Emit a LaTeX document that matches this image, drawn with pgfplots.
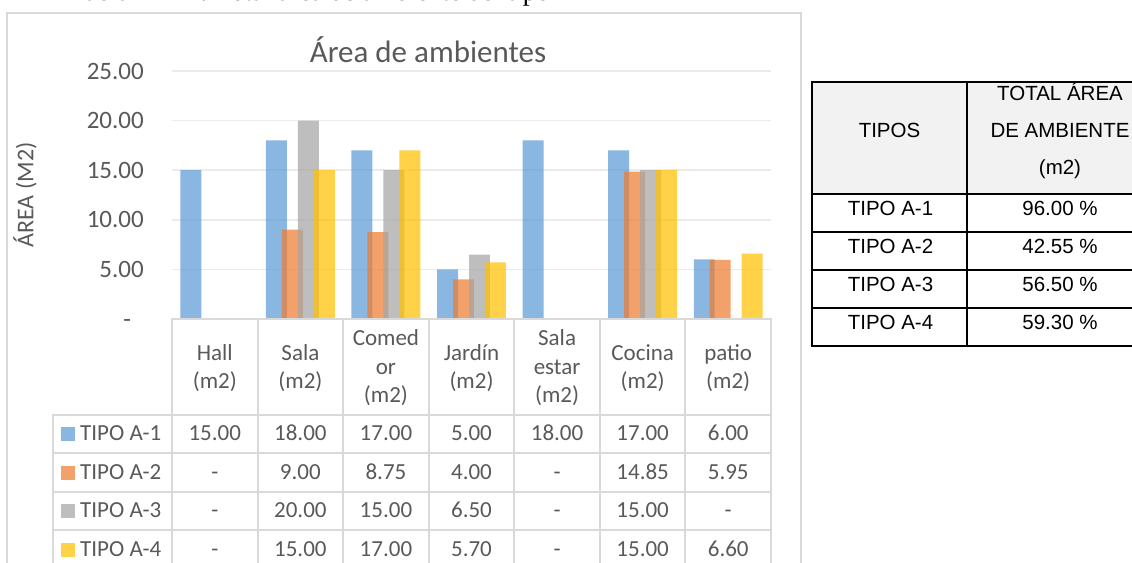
\documentclass[border=0pt]{standalone}
\usepackage{pgfplots}
\pgfplotsset{compat=1.18}
\usepackage{fontspec}
\setmainfont{Carlito}
\newfontfamily\arialf{Liberation Sans}
\newfontfamily\timesf{Liberation Serif}

\definecolor{txt}{HTML}{595959}
\definecolor{gridc}{HTML}{EBEBEB}
\definecolor{tbl}{HTML}{D9D9D9}
\definecolor{sA}{HTML}{5B9BD5}
\definecolor{sB}{HTML}{ED7D31}
\definecolor{sC}{HTML}{A5A5A5}
\definecolor{sD}{HTML}{FFC000}
\definecolor{hdr}{HTML}{F2F2F2}

\newcommand{\tabfont}{\fontsize{23}{28}\selectfont}
\newcommand{\rfont}{\arialf\fontsize{20.5}{25}\selectfont}

\begin{document}
\begin{tikzpicture}
% ---------------- bar chart ----------------
\begin{axis}[
  scale only axis, width=599pt, height=248pt,
  at={(172pt,-319pt)}, anchor=south west,
  xmin=-0.5, xmax=6.5, ymin=0, ymax=25,
  axis line style={draw=none},
  xtick=\empty,
  ytick={0,5,10,15,20,25},
  yticklabels={-\phantom{0},5.00,10.00,15.00,20.00,25.00},
  ymajorgrids, grid style={gridc, line width=1.5pt},
  major tick length=0pt,
  yticklabel style={font=\fontsize{25}{30}\selectfont, text=txt, anchor=east, inner sep=0pt, xshift=-28pt},
  ybar, bar width=0.245,
  every axis plot/.append style={draw=none, fill opacity=0.72},
]
% TIPO A-1
\addplot[fill=sA, bar shift=-0.28] coordinates {(0,15) (1,18) (2,17) (3,5) (4,18) (5,17) (6,6)};
% TIPO A-2
\addplot[fill=sB, bar shift=-0.0935] coordinates {(1,9) (2,8.75) (3,4) (5,14.85) (6,5.95)};
% TIPO A-3
\addplot[fill=sC, bar shift=0.0935] coordinates {(1,20) (2,15) (3,6.5) (5,15)};
% TIPO A-4
\addplot[fill=sD, bar shift=0.28] coordinates {(1,15) (2,17) (3,5.7) (5,15) (6,6.6)};
\end{axis}

\begin{scope}[x=1pt,y=-1pt]
% caption above the chart (only its lowest edge lies on the page)
\node[anchor=base east, inner sep=0pt, font=\timesf\fontsize{27}{32}\selectfont] at (550,1) {Tabla N° 11: Total área de ambiente del tipo};

% chart frame
\draw[tbl, line width=2pt] (7,600) -- (7,13) -- (801,13) -- (801,600);

% title and axis label
\node[anchor=base, inner sep=0pt, text=txt, font=\fontsize{31}{37}\selectfont] at (428,62) {Área de ambientes};
\node[rotate=90, inner sep=0pt, text=txt, font=\fontsize{24}{29}\selectfont] at (25,195) {ÁREA (M2)};

% data table grid
\foreach \i in {0,...,7} {
  \draw[tbl, line width=2pt] ({172+85.57*\i},319) -- ({172+85.57*\i},600);
}
\draw[tbl, line width=2pt] (171,319) -- (772,319);
\foreach \y in {415,453,491.5,530,568.5} {
  \draw[tbl, line width=2pt] (53,\y) -- (772,\y);
}
\draw[tbl, line width=2pt] (53,414) -- (53,600);

% category headers
\begin{scope}[every node/.style={anchor=base, inner sep=0pt, text=txt, font=\tabfont}]
\node at (214.8,360) {Hall};   \node at (214.8,388.5) {(m2)};
\node at (300.4,360) {Sala};   \node at (300.4,388.5) {(m2)};
\node at (385.9,345.5) {Comed}; \node at (385.9,374) {or}; \node at (385.9,402.5) {(m2)};
\node at (471.5,360) {Jardín}; \node at (471.5,388.5) {(m2)};
\node at (557.1,345.5) {Sala}; \node at (557.1,374) {estar}; \node at (557.1,402.5) {(m2)};
\node at (642.7,360) {Cocina}; \node at (642.7,388.5) {(m2)};
\node at (728.2,360) {patio};  \node at (728.2,388.5) {(m2)};

% values
\foreach \v [count=\i from 0] in {15.00,18.00,17.00,5.00,18.00,17.00,6.00}
  \node at ({214.8+85.57*\i},440.5) {\v};
\foreach \v [count=\i from 0] in {-,9.00,8.75,4.00,-,14.85,5.95}
  \node at ({214.8+85.57*\i},479) {\v};
\foreach \v [count=\i from 0] in {-,20.00,15.00,6.50,-,15.00,-}
  \node at ({214.8+85.57*\i},517.5) {\v};
\foreach \v [count=\i from 0] in {-,15.00,17.00,5.70,-,15.00,6.60}
  \node at ({214.8+85.57*\i},556) {\v};
\end{scope}

% legend keys
\begin{scope}[every node/.style={anchor=base west, inner sep=0pt, text=txt, font=\tabfont}]
\fill[sA, fill opacity=0.72] (61,427) rectangle (75,441);
\node at (80,440.5) {TIPO A-1};
\fill[sB, fill opacity=0.72] (61,465.5) rectangle (75,479.5);
\node at (80,479) {TIPO A-2};
\fill[sC, fill opacity=0.72] (61,504) rectangle (75,518);
\node at (80,517.5) {TIPO A-3};
\fill[sD, fill opacity=0.72] (61,542.5) rectangle (75,556.5);
\node at (80,556) {TIPO A-4};
\end{scope}

% summary table
\fill[hdr] (812,82) rectangle (1160,194);
\draw[black, line width=1.5pt] (812,82) rectangle (1160,346);
\foreach \y in {194,232,270,308} \draw[black, line width=1.5pt] (812,\y) -- (1160,\y);
\draw[black, line width=1.5pt] (967,82) -- (967,346);
\begin{scope}[every node/.style={anchor=base, inner sep=0pt, font=\rfont}]
\node at (889.5,137.3) {TIPOS};
\node at (1060,100.3) {TOTAL ÁREA};
\node at (1060,137.3) {DE AMBIENTE};
\node at (1060,174.3) {(m2)};
\node at (890.5,215.3) {TIPO A-1}; \node at (1060,215.3) {96.00 \%};
\node at (890.5,253.3) {TIPO A-2}; \node at (1060,253.3) {42.55 \%};
\node at (890.5,291.3) {TIPO A-3}; \node at (1060,291.3) {56.50 \%};
\node at (890.5,329.3) {TIPO A-4}; \node at (1060,329.3) {59.30 \%};
\end{scope}

\pgfresetboundingbox
\path[use as bounding box] (0,0) rectangle (1132,562);
\end{scope}
\end{tikzpicture}
\end{document}
